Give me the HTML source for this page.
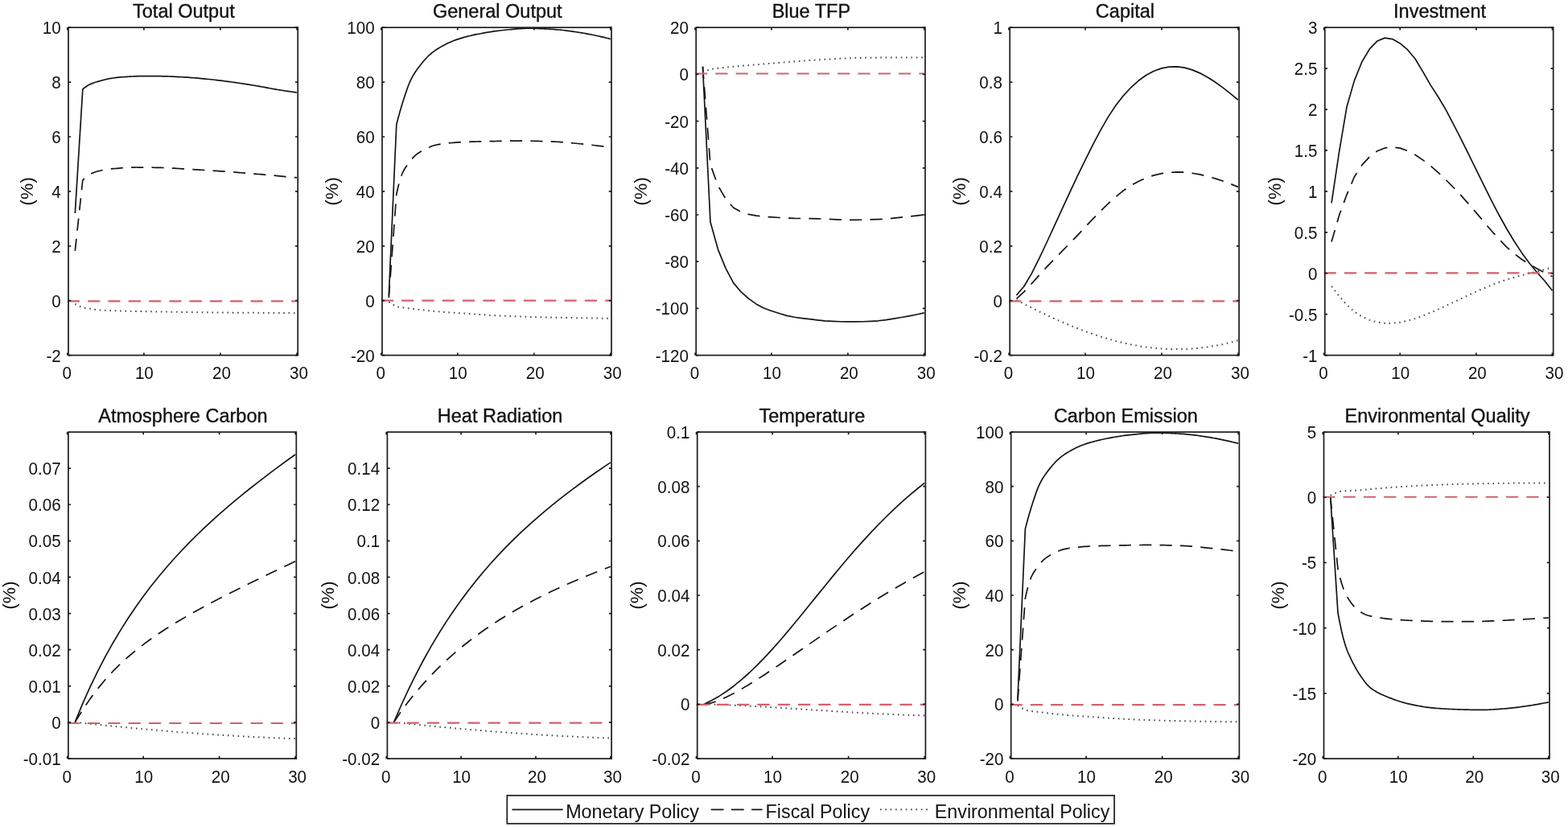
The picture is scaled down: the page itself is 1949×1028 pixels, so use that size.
<!DOCTYPE html>
<html><head><meta charset="utf-8"><title>Impulse responses</title><style>
html,body{margin:0;padding:0;background:#fff;}
body{width:1949px;height:1028px;overflow:hidden;}
svg{display:block;filter:blur(0.35px);}
text{font-family:"Liberation Sans",Arial,Helvetica,sans-serif;fill:#111;}
.tk{font-size:20.6px;}
.tt{font-size:23.5px;stroke:#111;stroke-width:0.35px;}
.yl{font-size:22.8px;}
.lg{font-size:23.3px;}
</style></head><body>
<svg width="1949" height="1028" viewBox="0 0 1949 1028">
<rect width="100%" height="100%" fill="#fff"/>
<g><clipPath id="c0"><rect x="85.0" y="34.2" width="285.20" height="407.40"/></clipPath><polyline points="93.31,265.06 102.81,110.93 105.19,109.02 107.57,107.29 109.94,105.80 112.32,104.60 114.70,103.62 117.07,102.77 119.45,102.02 121.83,101.33 124.20,100.65 126.58,99.98 128.96,99.34 131.33,98.74 133.71,98.19 136.09,97.71 138.46,97.32 140.84,96.98 143.22,96.67 145.59,96.38 147.97,96.13 150.35,95.91 152.72,95.73 155.10,95.57 157.48,95.42 159.85,95.27 162.23,95.13 164.61,95.00 166.98,94.88 169.36,94.79 171.74,94.71 174.11,94.66 176.49,94.63 178.87,94.63 181.24,94.63 183.62,94.63 186.00,94.63 188.37,94.63 190.75,94.63 193.13,94.63 195.50,94.64 197.88,94.67 200.26,94.72 202.63,94.78 205.01,94.85 207.39,94.93 209.76,95.02 212.14,95.11 214.52,95.22 216.89,95.32 219.27,95.43 221.65,95.54 224.02,95.65 226.40,95.77 228.78,95.90 231.15,96.05 233.53,96.21 235.91,96.38 238.28,96.56 240.66,96.75 243.04,96.95 245.41,97.16 247.79,97.37 250.17,97.59 252.54,97.81 254.92,98.03 257.30,98.25 259.67,98.49 262.05,98.75 264.43,99.01 266.80,99.28 269.18,99.56 271.56,99.85 273.93,100.15 276.31,100.45 278.69,100.76 281.06,101.07 283.44,101.38 285.82,101.70 288.19,102.02 290.57,102.34 292.95,102.68 295.32,103.02 297.70,103.37 300.08,103.73 302.45,104.09 304.83,104.46 307.21,104.83 309.58,105.21 311.96,105.59 314.34,105.97 316.71,106.36 319.09,106.75 321.47,107.16 323.84,107.58 326.22,108.01 328.60,108.45 330.97,108.89 333.35,109.33 335.73,109.78 338.10,110.22 340.48,110.65 342.86,111.07 345.23,111.48 347.61,111.87 349.99,112.25 352.36,112.62 354.74,112.98 357.12,113.33 359.49,113.68 361.87,114.02 364.25,114.36 366.62,114.68 369.00,115.00" fill="none" stroke="#141414" stroke-width="1.7" stroke-linejoin="round" clip-path="url(#c0)"/><polyline points="93.31,311.91 102.81,223.98 105.19,221.73 107.57,219.70 109.94,217.94 112.32,216.51 114.70,215.33 117.07,214.31 119.45,213.45 121.83,212.78 124.20,212.23 126.58,211.74 128.96,211.29 131.33,210.89 133.71,210.54 136.09,210.23 138.46,209.95 140.84,209.72 143.22,209.51 145.59,209.30 147.97,209.10 150.35,208.90 152.72,208.72 155.10,208.55 157.48,208.40 159.85,208.27 162.23,208.17 164.61,208.09 166.98,208.04 169.36,208.02 171.74,208.03 174.11,208.04 176.49,208.05 178.87,208.07 181.24,208.10 183.62,208.13 186.00,208.16 188.37,208.20 190.75,208.23 193.13,208.28 195.50,208.32 197.88,208.36 200.26,208.42 202.63,208.49 205.01,208.58 207.39,208.68 209.76,208.79 212.14,208.92 214.52,209.06 216.89,209.20 219.27,209.35 221.65,209.50 224.02,209.65 226.40,209.81 228.78,209.96 231.15,210.11 233.53,210.26 235.91,210.40 238.28,210.54 240.66,210.68 243.04,210.82 245.41,210.96 247.79,211.10 250.17,211.24 252.54,211.39 254.92,211.53 257.30,211.68 259.67,211.83 262.05,211.98 264.43,212.14 266.80,212.29 269.18,212.45 271.56,212.61 273.93,212.78 276.31,212.94 278.69,213.11 281.06,213.28 283.44,213.46 285.82,213.63 288.19,213.81 290.57,213.99 292.95,214.18 295.32,214.36 297.70,214.55 300.08,214.74 302.45,214.93 304.83,215.12 307.21,215.32 309.58,215.51 311.96,215.71 314.34,215.91 316.71,216.11 319.09,216.31 321.47,216.51 323.84,216.71 326.22,216.92 328.60,217.13 330.97,217.34 333.35,217.55 335.73,217.76 338.10,217.97 340.48,218.19 342.86,218.41 345.23,218.63 347.61,218.85 349.99,219.08 352.36,219.30 354.74,219.53 357.12,219.76 359.49,219.99 361.87,220.22 364.25,220.45 366.62,220.69 369.00,220.92" fill="none" stroke="#141414" stroke-width="1.7" stroke-linejoin="round" stroke-dasharray="15.2 10.2" clip-path="url(#c0)"/><polyline points="93.31,377.77 102.81,382.53 105.19,382.87 107.57,383.21 109.94,383.55 112.32,383.88 114.70,384.25 117.07,384.64 119.45,384.98 121.83,385.24 124.20,385.43 126.58,385.59 128.96,385.74 131.33,385.87 133.71,385.98 136.09,386.09 138.46,386.18 140.84,386.26 143.22,386.34 145.59,386.41 147.97,386.48 150.35,386.54 152.72,386.59 155.10,386.65 157.48,386.70 159.85,386.75 162.23,386.80 164.61,386.84 166.98,386.89 169.36,386.94 171.74,386.99 174.11,387.04 176.49,387.08 178.87,387.13 181.24,387.17 183.62,387.22 186.00,387.26 188.37,387.30 190.75,387.34 193.13,387.38 195.50,387.42 197.88,387.46 200.26,387.50 202.63,387.54 205.01,387.58 207.39,387.62 209.76,387.66 212.14,387.70 214.52,387.73 216.89,387.77 219.27,387.81 221.65,387.84 224.02,387.88 226.40,387.92 228.78,387.95 231.15,387.99 233.53,388.02 235.91,388.06 238.28,388.09 240.66,388.12 243.04,388.15 245.41,388.18 247.79,388.21 250.17,388.24 252.54,388.27 254.92,388.30 257.30,388.32 259.67,388.35 262.05,388.38 264.43,388.40 266.80,388.42 269.18,388.45 271.56,388.47 273.93,388.49 276.31,388.52 278.69,388.54 281.06,388.56 283.44,388.58 285.82,388.60 288.19,388.62 290.57,388.64 292.95,388.66 295.32,388.68 297.70,388.70 300.08,388.72 302.45,388.74 304.83,388.76 307.21,388.77 309.58,388.79 311.96,388.81 314.34,388.82 316.71,388.84 319.09,388.86 321.47,388.87 323.84,388.89 326.22,388.91 328.60,388.92 330.97,388.94 333.35,388.95 335.73,388.97 338.10,388.98 340.48,389.00 342.86,389.01 345.23,389.02 347.61,389.04 349.99,389.05 352.36,389.06 354.74,389.08 357.12,389.09 359.49,389.10 361.87,389.11 364.25,389.13 366.62,389.14 369.00,389.15" fill="none" stroke="#4a4a4a" stroke-width="2.0" stroke-linejoin="round" stroke-dasharray="1.6 4.75" stroke-linecap="butt" clip-path="url(#c0)"/><line x1="83.80" y1="374.40" x2="369.00" y2="374.40" stroke="#d4606c" stroke-width="2.2" stroke-dasharray="15.2 10.1"/><rect x="85.0" y="34.2" width="285.20" height="407.40" fill="none" stroke="#1c1c1c" stroke-width="1.7"/><path d="M83.80,441.6v-3.2M83.80,34.2v3.2M178.87,441.6v-3.2M178.87,34.2v3.2M273.93,441.6v-3.2M273.93,34.2v3.2M369.00,441.6v-3.2M369.00,34.2v3.2M85.0,441.60h3.2M370.2,441.60h-3.2M85.0,373.70h3.2M370.2,373.70h-3.2M85.0,305.80h3.2M370.2,305.80h-3.2M85.0,237.90h3.2M370.2,237.90h-3.2M85.0,170.00h3.2M370.2,170.00h-3.2M85.0,102.10h3.2M370.2,102.10h-3.2M85.0,34.20h3.2M370.2,34.20h-3.2" stroke="#1c1c1c" stroke-width="1.7" fill="none"/><text transform="translate(83.30,463.60) scale(1,1.06)" y="7.1" class="tk" text-anchor="middle">0</text><text transform="translate(179.37,463.60) scale(1,1.06)" y="7.1" class="tk" text-anchor="middle">10</text><text transform="translate(275.43,463.60) scale(1,1.06)" y="7.1" class="tk" text-anchor="middle">20</text><text transform="translate(371.50,463.60) scale(1,1.06)" y="7.1" class="tk" text-anchor="middle">30</text><text transform="translate(75.70,442.10) scale(1,1.06)" y="7.1" class="tk" text-anchor="end">-2</text><text transform="translate(75.70,374.20) scale(1,1.06)" y="7.1" class="tk" text-anchor="end">0</text><text transform="translate(75.70,306.30) scale(1,1.06)" y="7.1" class="tk" text-anchor="end">2</text><text transform="translate(75.70,238.40) scale(1,1.06)" y="7.1" class="tk" text-anchor="end">4</text><text transform="translate(75.70,170.50) scale(1,1.06)" y="7.1" class="tk" text-anchor="end">6</text><text transform="translate(75.70,102.60) scale(1,1.06)" y="7.1" class="tk" text-anchor="end">8</text><text transform="translate(75.70,34.70) scale(1,1.06)" y="7.1" class="tk" text-anchor="end">10</text><text x="228.40" y="21.70" class="tt" text-anchor="middle">Total Output</text><text transform="translate(40.80,237.90) rotate(-90)" class="yl" text-anchor="middle">(%)</text></g>
<g><clipPath id="c1"><rect x="475.0" y="34.2" width="285.00" height="407.40"/></clipPath><polyline points="483.30,367.59 492.80,154.72 495.18,145.76 497.55,137.26 499.93,129.26 502.30,121.79 504.68,114.62 507.05,107.80 509.43,101.77 511.80,96.88 514.17,92.69 516.55,88.96 518.92,85.58 521.30,82.44 523.67,79.44 526.05,76.55 528.42,73.80 530.80,71.24 533.17,68.89 535.55,66.79 537.92,64.91 540.30,63.16 542.67,61.55 545.05,60.04 547.42,58.63 549.80,57.29 552.17,56.00 554.55,54.75 556.92,53.57 559.30,52.46 561.67,51.43 564.05,50.50 566.42,49.66 568.80,48.86 571.17,48.10 573.55,47.38 575.92,46.69 578.30,46.03 580.67,45.40 583.05,44.80 585.42,44.23 587.80,43.69 590.17,43.18 592.55,42.69 594.92,42.22 597.30,41.76 599.67,41.31 602.05,40.87 604.42,40.45 606.80,40.05 609.17,39.66 611.55,39.29 613.92,38.94 616.30,38.61 618.67,38.30 621.05,38.01 623.42,37.74 625.80,37.50 628.17,37.26 630.55,37.01 632.92,36.77 635.30,36.53 637.67,36.30 640.05,36.08 642.42,35.88 644.80,35.70 647.17,35.54 649.55,35.41 651.92,35.31 654.30,35.25 656.67,35.22 659.05,35.23 661.42,35.25 663.80,35.30 666.17,35.36 668.55,35.44 670.92,35.54 673.30,35.64 675.67,35.76 678.05,35.89 680.42,36.02 682.80,36.16 685.17,36.31 687.55,36.46 689.92,36.61 692.30,36.78 694.67,36.98 697.05,37.21 699.42,37.47 701.80,37.75 704.17,38.05 706.55,38.36 708.92,38.70 711.30,39.04 713.67,39.40 716.05,39.76 718.42,40.13 720.80,40.50 723.17,40.88 725.55,41.27 727.92,41.68 730.30,42.11 732.67,42.56 735.05,43.02 737.42,43.50 739.80,44.00 742.17,44.51 744.55,45.03 746.92,45.57 749.30,46.12 751.67,46.69 754.05,47.27 756.42,47.86 758.80,48.46" fill="none" stroke="#141414" stroke-width="1.7" stroke-linejoin="round" clip-path="url(#c1)"/><polyline points="483.30,369.97 492.80,241.30 495.18,231.01 497.55,222.27 499.93,215.74 502.30,211.05 504.68,207.29 507.05,204.00 509.43,200.82 511.80,197.84 514.17,195.15 516.55,192.85 518.92,191.01 521.30,189.44 523.67,188.07 526.05,186.82 528.42,185.62 530.80,184.41 533.17,183.24 535.55,182.16 537.92,181.24 540.30,180.55 542.67,180.02 545.05,179.56 547.42,179.15 549.80,178.79 552.17,178.46 554.55,178.18 556.92,177.93 559.30,177.70 561.67,177.49 564.05,177.30 566.42,177.12 568.80,176.95 571.17,176.80 573.55,176.67 575.92,176.55 578.30,176.45 580.67,176.36 583.05,176.28 585.42,176.20 587.80,176.13 590.17,176.06 592.55,176.00 594.92,175.95 597.30,175.89 599.67,175.84 602.05,175.79 604.42,175.74 606.80,175.69 609.17,175.64 611.55,175.59 613.92,175.54 616.30,175.49 618.67,175.44 621.05,175.39 623.42,175.35 625.80,175.30 628.17,175.26 630.55,175.23 632.92,175.19 635.30,175.16 637.67,175.14 640.05,175.12 642.42,175.10 644.80,175.09 647.17,175.09 649.55,175.10 651.92,175.11 654.30,175.14 656.67,175.16 659.05,175.20 661.42,175.25 663.80,175.29 666.17,175.35 668.55,175.41 670.92,175.48 673.30,175.55 675.67,175.62 678.05,175.70 680.42,175.78 682.80,175.86 685.17,175.95 687.55,176.04 689.92,176.13 692.30,176.24 694.67,176.37 697.05,176.53 699.42,176.70 701.80,176.89 704.17,177.10 706.55,177.32 708.92,177.55 711.30,177.78 713.67,178.02 716.05,178.26 718.42,178.50 720.80,178.73 723.17,178.97 725.55,179.21 727.92,179.45 730.30,179.71 732.67,179.96 735.05,180.23 737.42,180.50 739.80,180.78 742.17,181.06 744.55,181.35 746.92,181.65 749.30,181.95 751.67,182.25 754.05,182.56 756.42,182.89 758.80,183.24" fill="none" stroke="#141414" stroke-width="1.7" stroke-linejoin="round" stroke-dasharray="15.2 10.2" clip-path="url(#c1)"/><polyline points="483.30,375.40 492.80,381.17 495.18,381.53 497.55,381.88 499.93,382.21 502.30,382.53 504.68,382.84 507.05,383.14 509.43,383.43 511.80,383.72 514.17,384.00 516.55,384.27 518.92,384.55 521.30,384.82 523.67,385.08 526.05,385.35 528.42,385.62 530.80,385.89 533.17,386.15 535.55,386.41 537.92,386.67 540.30,386.92 542.67,387.15 545.05,387.37 547.42,387.58 549.80,387.77 552.17,387.95 554.55,388.11 556.92,388.27 559.30,388.42 561.67,388.57 564.05,388.71 566.42,388.86 568.80,389.01 571.17,389.16 573.55,389.32 575.92,389.48 578.30,389.65 580.67,389.83 583.05,390.01 585.42,390.18 587.80,390.36 590.17,390.54 592.55,390.71 594.92,390.88 597.30,391.05 599.67,391.20 602.05,391.35 604.42,391.50 606.80,391.64 609.17,391.78 611.55,391.92 613.92,392.05 616.30,392.18 618.67,392.31 621.05,392.43 623.42,392.55 625.80,392.67 628.17,392.78 630.55,392.88 632.92,392.98 635.30,393.08 637.67,393.18 640.05,393.27 642.42,393.37 644.80,393.46 647.17,393.54 649.55,393.63 651.92,393.71 654.30,393.79 656.67,393.86 659.05,393.93 661.42,394.00 663.80,394.07 666.17,394.13 668.55,394.20 670.92,394.26 673.30,394.32 675.67,394.37 678.05,394.43 680.42,394.48 682.80,394.54 685.17,394.59 687.55,394.64 689.92,394.69 692.30,394.74 694.67,394.78 697.05,394.83 699.42,394.88 701.80,394.92 704.17,394.96 706.55,395.01 708.92,395.05 711.30,395.09 713.67,395.13 716.05,395.17 718.42,395.21 720.80,395.25 723.17,395.29 725.55,395.32 727.92,395.36 730.30,395.40 732.67,395.43 735.05,395.47 737.42,395.50 739.80,395.53 742.17,395.57 744.55,395.60 746.92,395.63 749.30,395.66 751.67,395.69 754.05,395.71 756.42,395.74 758.80,395.77" fill="none" stroke="#4a4a4a" stroke-width="2.0" stroke-linejoin="round" stroke-dasharray="1.6 4.75" stroke-linecap="butt" clip-path="url(#c1)"/><line x1="473.80" y1="373.70" x2="758.80" y2="373.70" stroke="#d4606c" stroke-width="2.2" stroke-dasharray="15.2 10.1"/><rect x="475.0" y="34.2" width="285.00" height="407.40" fill="none" stroke="#1c1c1c" stroke-width="1.7"/><path d="M473.80,441.6v-3.2M473.80,34.2v3.2M568.80,441.6v-3.2M568.80,34.2v3.2M663.80,441.6v-3.2M663.80,34.2v3.2M758.80,441.6v-3.2M758.80,34.2v3.2M475.0,441.60h3.2M760.0,441.60h-3.2M475.0,373.70h3.2M760.0,373.70h-3.2M475.0,305.80h3.2M760.0,305.80h-3.2M475.0,237.90h3.2M760.0,237.90h-3.2M475.0,170.00h3.2M760.0,170.00h-3.2M475.0,102.10h3.2M760.0,102.10h-3.2M475.0,34.20h3.2M760.0,34.20h-3.2" stroke="#1c1c1c" stroke-width="1.7" fill="none"/><text transform="translate(473.30,463.60) scale(1,1.06)" y="7.1" class="tk" text-anchor="middle">0</text><text transform="translate(569.30,463.60) scale(1,1.06)" y="7.1" class="tk" text-anchor="middle">10</text><text transform="translate(665.30,463.60) scale(1,1.06)" y="7.1" class="tk" text-anchor="middle">20</text><text transform="translate(761.30,463.60) scale(1,1.06)" y="7.1" class="tk" text-anchor="middle">30</text><text transform="translate(465.70,442.10) scale(1,1.06)" y="7.1" class="tk" text-anchor="end">-20</text><text transform="translate(465.70,374.20) scale(1,1.06)" y="7.1" class="tk" text-anchor="end">0</text><text transform="translate(465.70,306.30) scale(1,1.06)" y="7.1" class="tk" text-anchor="end">20</text><text transform="translate(465.70,238.40) scale(1,1.06)" y="7.1" class="tk" text-anchor="end">40</text><text transform="translate(465.70,170.50) scale(1,1.06)" y="7.1" class="tk" text-anchor="end">60</text><text transform="translate(465.70,102.60) scale(1,1.06)" y="7.1" class="tk" text-anchor="end">80</text><text transform="translate(465.70,34.70) scale(1,1.06)" y="7.1" class="tk" text-anchor="end">100</text><text x="618.30" y="21.70" class="tt" text-anchor="middle">General Output</text><text transform="translate(419.70,237.90) rotate(-90)" class="yl" text-anchor="middle">(%)</text></g>
<g><clipPath id="c2"><rect x="865.2" y="34.2" width="284.80" height="407.40"/></clipPath><polyline points="873.49,82.80 882.99,276.02 892.48,310.07 901.97,333.35 911.47,351.39 920.96,362.73 930.45,371.18 939.95,377.90 949.44,382.95 958.93,386.55 968.43,389.51 977.92,392.40 987.41,394.27 996.91,395.54 1006.40,396.63 1015.89,397.82 1025.39,398.93 1034.88,399.42 1044.37,399.76 1053.87,399.96 1063.36,399.95 1072.85,399.73 1082.35,399.34 1091.84,398.78 1101.33,397.65 1110.83,396.13 1120.32,394.49 1129.81,392.83 1139.31,390.96 1148.80,388.93" fill="none" stroke="#141414" stroke-width="1.7" stroke-linejoin="round" clip-path="url(#c2)"/><polyline points="873.49,82.80 882.99,204.73 892.48,230.75 901.97,247.16 911.47,257.96 920.96,263.33 930.45,266.36 939.95,268.08 949.44,269.14 958.93,269.89 968.43,270.50 977.92,271.05 987.41,271.38 996.91,271.50 1006.40,271.60 1015.89,271.80 1025.39,272.19 1034.88,272.66 1044.37,273.09 1053.87,273.36 1063.36,273.38 1072.85,273.22 1082.35,272.93 1091.84,272.54 1101.33,272.07 1110.83,271.19 1120.32,270.11 1129.81,269.11 1139.31,268.08 1148.80,267.00" fill="none" stroke="#141414" stroke-width="1.7" stroke-linejoin="round" stroke-dasharray="15.2 10.2" clip-path="url(#c2)"/><polyline points="873.49,90.07 882.99,86.00 892.48,84.86 901.97,83.79 911.47,82.82 920.96,81.95 930.45,81.13 939.95,80.34 949.44,79.53 958.93,78.73 968.43,77.94 977.92,77.18 987.41,76.42 996.91,75.70 1006.40,75.04 1015.89,74.41 1025.39,73.82 1034.88,73.31 1044.37,72.84 1053.87,72.42 1063.36,72.10 1072.85,71.90 1082.35,71.74 1091.84,71.63 1101.33,71.58 1110.83,71.53 1120.32,71.50 1129.81,71.47 1139.31,71.45 1148.80,71.45" fill="none" stroke="#4a4a4a" stroke-width="2.0" stroke-linejoin="round" stroke-dasharray="1.6 4.75" stroke-linecap="butt" clip-path="url(#c2)"/><line x1="864.00" y1="91.50" x2="1148.80" y2="91.50" stroke="#d4606c" stroke-width="2.2" stroke-dasharray="15.2 10.1"/><rect x="865.2" y="34.2" width="284.80" height="407.40" fill="none" stroke="#1c1c1c" stroke-width="1.7"/><path d="M864.00,441.6v-3.2M864.00,34.2v3.2M958.93,441.6v-3.2M958.93,34.2v3.2M1053.87,441.6v-3.2M1053.87,34.2v3.2M1148.80,441.6v-3.2M1148.80,34.2v3.2M865.2,441.60h3.2M1150.0,441.60h-3.2M865.2,383.40h3.2M1150.0,383.40h-3.2M865.2,325.20h3.2M1150.0,325.20h-3.2M865.2,267.00h3.2M1150.0,267.00h-3.2M865.2,208.80h3.2M1150.0,208.80h-3.2M865.2,150.60h3.2M1150.0,150.60h-3.2M865.2,92.40h3.2M1150.0,92.40h-3.2M865.2,34.20h3.2M1150.0,34.20h-3.2" stroke="#1c1c1c" stroke-width="1.7" fill="none"/><text transform="translate(863.50,463.60) scale(1,1.06)" y="7.1" class="tk" text-anchor="middle">0</text><text transform="translate(959.43,463.60) scale(1,1.06)" y="7.1" class="tk" text-anchor="middle">10</text><text transform="translate(1055.37,463.60) scale(1,1.06)" y="7.1" class="tk" text-anchor="middle">20</text><text transform="translate(1151.30,463.60) scale(1,1.06)" y="7.1" class="tk" text-anchor="middle">30</text><text transform="translate(855.90,442.10) scale(1,1.06)" y="7.1" class="tk" text-anchor="end">-120</text><text transform="translate(855.90,383.90) scale(1,1.06)" y="7.1" class="tk" text-anchor="end">-100</text><text transform="translate(855.90,325.70) scale(1,1.06)" y="7.1" class="tk" text-anchor="end">-80</text><text transform="translate(855.90,267.50) scale(1,1.06)" y="7.1" class="tk" text-anchor="end">-60</text><text transform="translate(855.90,209.30) scale(1,1.06)" y="7.1" class="tk" text-anchor="end">-40</text><text transform="translate(855.90,151.10) scale(1,1.06)" y="7.1" class="tk" text-anchor="end">-20</text><text transform="translate(855.90,92.90) scale(1,1.06)" y="7.1" class="tk" text-anchor="end">0</text><text transform="translate(855.90,34.70) scale(1,1.06)" y="7.1" class="tk" text-anchor="end">20</text><text x="1008.40" y="21.70" class="tt" text-anchor="middle">Blue TFP</text><text transform="translate(803.70,237.90) rotate(-90)" class="yl" text-anchor="middle">(%)</text></g>
<g><clipPath id="c3"><rect x="1255.2" y="34.2" width="284.90" height="407.40"/></clipPath><polyline points="1263.50,367.04 1272.99,355.79 1282.49,339.59 1291.99,320.58 1301.48,300.50 1310.98,279.93 1320.48,259.18 1329.97,238.57 1339.47,218.40 1348.97,198.85 1358.46,179.91 1367.96,161.87 1377.46,145.40 1386.95,131.08 1396.45,118.85 1405.95,108.54 1415.44,100.03 1424.94,93.30 1434.44,88.27 1443.93,84.90 1453.43,83.12 1462.93,82.90 1472.42,84.16 1481.92,86.86 1491.42,90.86 1500.91,95.98 1510.41,102.04 1519.91,108.88 1529.40,116.33 1538.90,124.19" fill="none" stroke="#141414" stroke-width="1.7" stroke-linejoin="round" clip-path="url(#c3)"/><polyline points="1263.50,371.35 1272.99,362.60 1282.49,352.35 1291.99,341.69 1301.48,331.44 1310.98,321.59 1320.48,311.92 1329.97,302.23 1339.47,292.33 1348.97,282.24 1358.46,272.19 1367.96,262.41 1377.46,253.11 1386.95,244.54 1396.45,236.93 1405.95,230.46 1415.44,225.17 1424.94,220.98 1434.44,217.83 1443.93,215.65 1453.43,214.38 1462.93,213.93 1472.42,214.26 1481.92,215.28 1491.42,216.94 1500.91,219.17 1510.41,221.89 1519.91,225.04 1529.40,228.56 1538.90,232.37" fill="none" stroke="#141414" stroke-width="1.7" stroke-linejoin="round" stroke-dasharray="15.2 10.2" clip-path="url(#c3)"/><polyline points="1263.50,373.03 1272.99,377.92 1282.49,382.70 1291.99,387.35 1301.48,391.87 1310.98,396.23 1320.48,400.42 1329.97,404.43 1339.47,408.25 1348.97,411.85 1358.46,415.24 1367.96,418.39 1377.46,421.28 1386.95,423.92 1396.45,426.27 1405.95,428.34 1415.44,430.09 1424.94,431.54 1434.44,432.66 1443.93,433.46 1453.43,433.94 1462.93,434.09 1472.42,433.91 1481.92,433.39 1491.42,432.54 1500.91,431.35 1510.41,429.82 1519.91,427.95 1529.40,425.72 1538.90,423.15" fill="none" stroke="#4a4a4a" stroke-width="2.0" stroke-linejoin="round" stroke-dasharray="1.6 4.75" stroke-linecap="butt" clip-path="url(#c3)"/><line x1="1254.00" y1="374.40" x2="1538.90" y2="374.40" stroke="#d4606c" stroke-width="2.2" stroke-dasharray="15.2 10.1"/><rect x="1255.2" y="34.2" width="284.90" height="407.40" fill="none" stroke="#1c1c1c" stroke-width="1.7"/><path d="M1254.00,441.6v-3.2M1254.00,34.2v3.2M1348.97,441.6v-3.2M1348.97,34.2v3.2M1443.93,441.6v-3.2M1443.93,34.2v3.2M1538.90,441.6v-3.2M1538.90,34.2v3.2M1255.2,441.60h3.2M1540.1,441.60h-3.2M1255.2,373.70h3.2M1540.1,373.70h-3.2M1255.2,305.80h3.2M1540.1,305.80h-3.2M1255.2,237.90h3.2M1540.1,237.90h-3.2M1255.2,170.00h3.2M1540.1,170.00h-3.2M1255.2,102.10h3.2M1540.1,102.10h-3.2M1255.2,34.20h3.2M1540.1,34.20h-3.2" stroke="#1c1c1c" stroke-width="1.7" fill="none"/><text transform="translate(1253.50,463.60) scale(1,1.06)" y="7.1" class="tk" text-anchor="middle">0</text><text transform="translate(1349.47,463.60) scale(1,1.06)" y="7.1" class="tk" text-anchor="middle">10</text><text transform="translate(1445.43,463.60) scale(1,1.06)" y="7.1" class="tk" text-anchor="middle">20</text><text transform="translate(1541.40,463.60) scale(1,1.06)" y="7.1" class="tk" text-anchor="middle">30</text><text transform="translate(1245.90,442.10) scale(1,1.06)" y="7.1" class="tk" text-anchor="end">-0.2</text><text transform="translate(1245.90,374.20) scale(1,1.06)" y="7.1" class="tk" text-anchor="end">0</text><text transform="translate(1245.90,306.30) scale(1,1.06)" y="7.1" class="tk" text-anchor="end">0.2</text><text transform="translate(1245.90,238.40) scale(1,1.06)" y="7.1" class="tk" text-anchor="end">0.4</text><text transform="translate(1245.90,170.50) scale(1,1.06)" y="7.1" class="tk" text-anchor="end">0.6</text><text transform="translate(1245.90,102.60) scale(1,1.06)" y="7.1" class="tk" text-anchor="end">0.8</text><text transform="translate(1245.90,34.70) scale(1,1.06)" y="7.1" class="tk" text-anchor="end">1</text><text x="1398.45" y="21.70" class="tt" text-anchor="middle">Capital</text><text transform="translate(1199.70,237.90) rotate(-90)" class="yl" text-anchor="middle">(%)</text></g>
<g><clipPath id="c4"><rect x="1646.8" y="34.2" width="283.90" height="407.40"/></clipPath><polyline points="1655.06,252.29 1664.53,189.07 1673.99,133.10 1683.45,100.13 1692.92,76.75 1702.38,60.90 1711.84,51.05 1721.31,47.15 1730.77,48.54 1740.23,53.89 1749.70,61.96 1759.16,73.21 1768.62,89.18 1778.09,105.64 1787.55,120.21 1797.01,136.13 1806.48,154.12 1815.94,172.67 1825.40,191.55 1834.87,210.87 1844.33,230.24 1853.79,249.19 1863.26,267.28 1872.72,284.24 1882.18,299.98 1891.65,314.38 1901.11,327.33 1910.57,338.73 1920.04,349.26 1929.50,361.18" fill="none" stroke="#141414" stroke-width="1.7" stroke-linejoin="round" clip-path="url(#c4)"/><polyline points="1655.06,300.55 1664.53,267.83 1673.99,242.07 1683.45,219.79 1692.92,205.10 1702.38,194.84 1711.84,187.83 1721.31,183.93 1730.77,182.80 1740.23,184.08 1749.70,187.42 1759.16,192.46 1768.62,198.84 1778.09,206.21 1787.55,214.38 1797.01,223.26 1806.48,232.78 1815.94,242.86 1825.40,253.41 1834.87,264.38 1844.33,275.61 1853.79,286.74 1863.26,297.36 1872.72,307.04 1882.18,315.41 1891.65,322.50 1901.11,328.59 1910.57,333.97 1920.04,338.91 1929.50,343.71" fill="none" stroke="#141414" stroke-width="1.7" stroke-linejoin="round" stroke-dasharray="15.2 10.2" clip-path="url(#c4)"/><polyline points="1655.06,355.82 1664.53,368.00 1673.99,378.86 1683.45,387.45 1692.92,393.66 1702.38,397.88 1711.84,400.48 1721.31,401.70 1730.77,401.71 1740.23,400.64 1749.70,398.65 1759.16,395.89 1768.62,392.53 1778.09,388.70 1787.55,384.56 1797.01,380.24 1806.48,375.80 1815.94,371.32 1825.40,366.87 1834.87,362.52 1844.33,358.34 1853.79,354.41 1863.26,350.80 1872.72,347.57 1882.18,344.74 1891.65,342.18 1901.11,339.79 1910.57,337.43 1920.04,334.98 1929.50,332.33" fill="none" stroke="#4a4a4a" stroke-width="2.0" stroke-linejoin="round" stroke-dasharray="1.6 4.75" stroke-linecap="butt" clip-path="url(#c4)"/><line x1="1645.60" y1="339.35" x2="1929.50" y2="339.35" stroke="#d4606c" stroke-width="2.2" stroke-dasharray="15.2 10.1"/><rect x="1646.8" y="34.2" width="283.90" height="407.40" fill="none" stroke="#1c1c1c" stroke-width="1.7"/><path d="M1645.60,441.6v-3.2M1645.60,34.2v3.2M1740.23,441.6v-3.2M1740.23,34.2v3.2M1834.87,441.6v-3.2M1834.87,34.2v3.2M1929.50,441.6v-3.2M1929.50,34.2v3.2M1646.8,441.60h3.2M1930.7,441.60h-3.2M1646.8,390.68h3.2M1930.7,390.68h-3.2M1646.8,339.75h3.2M1930.7,339.75h-3.2M1646.8,288.83h3.2M1930.7,288.83h-3.2M1646.8,237.90h3.2M1930.7,237.90h-3.2M1646.8,186.97h3.2M1930.7,186.97h-3.2M1646.8,136.05h3.2M1930.7,136.05h-3.2M1646.8,85.12h3.2M1930.7,85.12h-3.2M1646.8,34.20h3.2M1930.7,34.20h-3.2" stroke="#1c1c1c" stroke-width="1.7" fill="none"/><text transform="translate(1645.10,463.60) scale(1,1.06)" y="7.1" class="tk" text-anchor="middle">0</text><text transform="translate(1740.73,463.60) scale(1,1.06)" y="7.1" class="tk" text-anchor="middle">10</text><text transform="translate(1836.37,463.60) scale(1,1.06)" y="7.1" class="tk" text-anchor="middle">20</text><text transform="translate(1932.00,463.60) scale(1,1.06)" y="7.1" class="tk" text-anchor="middle">30</text><text transform="translate(1637.50,442.10) scale(1,1.06)" y="7.1" class="tk" text-anchor="end">-1</text><text transform="translate(1637.50,391.18) scale(1,1.06)" y="7.1" class="tk" text-anchor="end">-0.5</text><text transform="translate(1637.50,340.25) scale(1,1.06)" y="7.1" class="tk" text-anchor="end">0</text><text transform="translate(1637.50,289.33) scale(1,1.06)" y="7.1" class="tk" text-anchor="end">0.5</text><text transform="translate(1637.50,238.40) scale(1,1.06)" y="7.1" class="tk" text-anchor="end">1</text><text transform="translate(1637.50,187.47) scale(1,1.06)" y="7.1" class="tk" text-anchor="end">1.5</text><text transform="translate(1637.50,136.55) scale(1,1.06)" y="7.1" class="tk" text-anchor="end">2</text><text transform="translate(1637.50,85.62) scale(1,1.06)" y="7.1" class="tk" text-anchor="end">2.5</text><text transform="translate(1637.50,34.70) scale(1,1.06)" y="7.1" class="tk" text-anchor="end">3</text><text x="1789.55" y="21.70" class="tt" text-anchor="middle">Investment</text><text transform="translate(1591.70,237.90) rotate(-90)" class="yl" text-anchor="middle">(%)</text></g>
<g><clipPath id="c5"><rect x="84.9" y="537.05" width="283.40" height="405.95"/></clipPath><polyline points="93.15,897.89 102.59,874.93 112.04,853.84 121.49,834.30 130.93,816.13 140.38,799.19 149.83,783.34 159.27,768.47 168.72,754.48 178.17,741.29 187.61,728.81 197.06,716.98 206.51,705.74 215.95,695.01 225.40,684.76 234.85,674.94 244.29,665.51 253.74,656.42 263.19,647.64 272.63,639.15 282.08,630.92 291.53,622.92 300.97,615.13 310.42,607.52 319.87,600.09 329.31,592.81 338.76,585.67 348.21,578.66 357.65,571.77 367.10,564.97" fill="none" stroke="#141414" stroke-width="1.7" stroke-linejoin="round" clip-path="url(#c5)"/><polyline points="93.15,897.89 102.59,882.58 112.04,868.63 121.49,856.07 130.93,844.74 140.38,834.46 149.83,825.09 159.27,816.49 168.72,808.54 178.17,801.15 187.61,794.24 197.06,787.71 206.51,781.53 215.95,775.63 225.40,769.96 234.85,764.50 244.29,759.20 253.74,754.05 263.19,749.01 272.63,744.08 282.08,739.23 291.53,734.45 300.97,729.73 310.42,725.05 319.87,720.42 329.31,715.83 338.76,711.26 348.21,706.72 357.65,702.20 367.10,697.70" fill="none" stroke="#141414" stroke-width="1.7" stroke-linejoin="round" stroke-dasharray="15.2 10.2" clip-path="url(#c5)"/><polyline points="93.15,897.73 102.59,898.75 112.04,899.76 121.49,900.74 130.93,901.71 140.38,902.66 149.83,903.58 159.27,904.49 168.72,905.38 178.17,906.24 187.61,907.08 197.06,907.90 206.51,908.69 215.95,909.47 225.40,910.21 234.85,910.94 244.29,911.63 253.74,912.31 263.19,912.95 272.63,913.57 282.08,914.16 291.53,914.72 300.97,915.26 310.42,915.77 319.87,916.25 329.31,916.69 338.76,917.11 348.21,917.50 357.65,917.86 367.10,918.18" fill="none" stroke="#4a4a4a" stroke-width="2.0" stroke-linejoin="round" stroke-dasharray="1.6 4.75" stroke-linecap="butt" clip-path="url(#c5)"/><line x1="83.70" y1="898.99" x2="367.10" y2="898.99" stroke="#d4606c" stroke-width="2.2" stroke-dasharray="15.2 10.1"/><rect x="84.9" y="537.05" width="283.40" height="405.95" fill="none" stroke="#1c1c1c" stroke-width="1.7"/><path d="M83.70,943.0v-3.2M83.70,537.05v3.2M178.17,943.0v-3.2M178.17,537.05v3.2M272.63,943.0v-3.2M272.63,537.05v3.2M367.10,943.0v-3.2M367.10,537.05v3.2M84.9,943.00h3.2M368.3,943.00h-3.2M84.9,897.89h3.2M368.3,897.89h-3.2M84.9,852.79h3.2M368.3,852.79h-3.2M84.9,807.68h3.2M368.3,807.68h-3.2M84.9,762.58h3.2M368.3,762.58h-3.2M84.9,717.47h3.2M368.3,717.47h-3.2M84.9,672.37h3.2M368.3,672.37h-3.2M84.9,627.26h3.2M368.3,627.26h-3.2M84.9,582.16h3.2M368.3,582.16h-3.2" stroke="#1c1c1c" stroke-width="1.7" fill="none"/><text transform="translate(83.20,965.00) scale(1,1.06)" y="7.1" class="tk" text-anchor="middle">0</text><text transform="translate(178.67,965.00) scale(1,1.06)" y="7.1" class="tk" text-anchor="middle">10</text><text transform="translate(274.13,965.00) scale(1,1.06)" y="7.1" class="tk" text-anchor="middle">20</text><text transform="translate(369.60,965.00) scale(1,1.06)" y="7.1" class="tk" text-anchor="middle">30</text><text transform="translate(75.60,943.50) scale(1,1.06)" y="7.1" class="tk" text-anchor="end">-0.01</text><text transform="translate(75.60,898.39) scale(1,1.06)" y="7.1" class="tk" text-anchor="end">0</text><text transform="translate(75.60,853.29) scale(1,1.06)" y="7.1" class="tk" text-anchor="end">0.01</text><text transform="translate(75.60,808.18) scale(1,1.06)" y="7.1" class="tk" text-anchor="end">0.02</text><text transform="translate(75.60,763.08) scale(1,1.06)" y="7.1" class="tk" text-anchor="end">0.03</text><text transform="translate(75.60,717.97) scale(1,1.06)" y="7.1" class="tk" text-anchor="end">0.04</text><text transform="translate(75.60,672.87) scale(1,1.06)" y="7.1" class="tk" text-anchor="end">0.05</text><text transform="translate(75.60,627.76) scale(1,1.06)" y="7.1" class="tk" text-anchor="end">0.06</text><text transform="translate(75.60,582.66) scale(1,1.06)" y="7.1" class="tk" text-anchor="end">0.07</text><text x="227.40" y="524.55" class="tt" text-anchor="middle">Atmosphere Carbon</text><text transform="translate(18.70,740.02) rotate(-90)" class="yl" text-anchor="middle">(%)</text></g>
<g><clipPath id="c6"><rect x="481.4" y="537.05" width="278.70" height="405.95"/></clipPath><polyline points="489.49,897.89 498.78,876.50 508.07,856.44 517.36,837.63 526.65,819.98 535.94,803.41 545.23,787.81 554.52,773.11 563.81,759.24 573.10,746.12 582.39,733.70 591.68,721.91 600.97,710.71 610.26,700.05 619.55,689.87 628.84,680.15 638.13,670.83 647.42,661.90 656.71,653.30 666.00,645.03 675.29,637.05 684.58,629.33 693.87,621.86 703.16,614.61 712.45,607.56 721.74,600.70 731.03,594.02 740.32,587.49 749.61,581.10 758.90,574.85" fill="none" stroke="#141414" stroke-width="1.7" stroke-linejoin="round" clip-path="url(#c6)"/><polyline points="489.49,897.89 498.78,884.05 508.07,871.60 517.36,860.09 526.65,849.38 535.94,839.35 545.23,829.95 554.52,821.11 563.81,812.78 573.10,804.92 582.39,797.48 591.68,790.43 600.97,783.74 610.26,777.37 619.55,771.31 628.84,765.53 638.13,760.00 647.42,754.71 656.71,749.64 666.00,744.77 675.29,740.08 684.58,735.57 693.87,731.22 703.16,727.02 712.45,722.95 721.74,719.01 731.03,715.18 740.32,711.47 749.61,707.85 758.90,704.33" fill="none" stroke="#141414" stroke-width="1.7" stroke-linejoin="round" stroke-dasharray="15.2 10.2" clip-path="url(#c6)"/><polyline points="489.49,897.73 498.78,898.72 508.07,899.69 517.36,900.64 526.65,901.58 535.94,902.49 545.23,903.39 554.52,904.26 563.81,905.11 573.10,905.95 582.39,906.76 591.68,907.55 600.97,908.32 610.26,909.06 619.55,909.78 628.84,910.48 638.13,911.15 647.42,911.80 656.71,912.42 666.00,913.02 675.29,913.59 684.58,914.14 693.87,914.65 703.16,915.14 712.45,915.60 721.74,916.04 731.03,916.44 740.32,916.81 749.61,917.16 758.90,917.47" fill="none" stroke="#4a4a4a" stroke-width="2.0" stroke-linejoin="round" stroke-dasharray="1.6 4.75" stroke-linecap="butt" clip-path="url(#c6)"/><line x1="480.20" y1="898.59" x2="758.90" y2="898.59" stroke="#d4606c" stroke-width="2.2" stroke-dasharray="15.2 10.1"/><rect x="481.4" y="537.05" width="278.70" height="405.95" fill="none" stroke="#1c1c1c" stroke-width="1.7"/><path d="M480.20,943.0v-3.2M480.20,537.05v3.2M573.10,943.0v-3.2M573.10,537.05v3.2M666.00,943.0v-3.2M666.00,537.05v3.2M758.90,943.0v-3.2M758.90,537.05v3.2M481.4,943.00h3.2M760.1,943.00h-3.2M481.4,897.89h3.2M760.1,897.89h-3.2M481.4,852.79h3.2M760.1,852.79h-3.2M481.4,807.68h3.2M760.1,807.68h-3.2M481.4,762.58h3.2M760.1,762.58h-3.2M481.4,717.47h3.2M760.1,717.47h-3.2M481.4,672.37h3.2M760.1,672.37h-3.2M481.4,627.26h3.2M760.1,627.26h-3.2M481.4,582.16h3.2M760.1,582.16h-3.2" stroke="#1c1c1c" stroke-width="1.7" fill="none"/><text transform="translate(479.70,965.00) scale(1,1.06)" y="7.1" class="tk" text-anchor="middle">0</text><text transform="translate(573.60,965.00) scale(1,1.06)" y="7.1" class="tk" text-anchor="middle">10</text><text transform="translate(667.50,965.00) scale(1,1.06)" y="7.1" class="tk" text-anchor="middle">20</text><text transform="translate(761.40,965.00) scale(1,1.06)" y="7.1" class="tk" text-anchor="middle">30</text><text transform="translate(472.10,943.50) scale(1,1.06)" y="7.1" class="tk" text-anchor="end">-0.02</text><text transform="translate(472.10,898.39) scale(1,1.06)" y="7.1" class="tk" text-anchor="end">0</text><text transform="translate(472.10,853.29) scale(1,1.06)" y="7.1" class="tk" text-anchor="end">0.02</text><text transform="translate(472.10,808.18) scale(1,1.06)" y="7.1" class="tk" text-anchor="end">0.04</text><text transform="translate(472.10,763.08) scale(1,1.06)" y="7.1" class="tk" text-anchor="end">0.06</text><text transform="translate(472.10,717.97) scale(1,1.06)" y="7.1" class="tk" text-anchor="end">0.08</text><text transform="translate(472.10,672.87) scale(1,1.06)" y="7.1" class="tk" text-anchor="end">0.1</text><text transform="translate(472.10,627.76) scale(1,1.06)" y="7.1" class="tk" text-anchor="end">0.12</text><text transform="translate(472.10,582.66) scale(1,1.06)" y="7.1" class="tk" text-anchor="end">0.14</text><text x="621.55" y="524.55" class="tt" text-anchor="middle">Heat Radiation</text><text transform="translate(414.90,740.02) rotate(-90)" class="yl" text-anchor="middle">(%)</text></g>
<g><clipPath id="c7"><rect x="866.7" y="537.05" width="283.70" height="405.95"/></clipPath><polyline points="874.96,875.34 884.41,870.77 893.87,865.39 903.33,859.20 912.78,852.21 922.24,844.46 931.70,836.00 941.15,826.87 950.61,817.15 960.07,806.90 969.52,796.20 978.98,785.13 988.44,773.78 997.89,762.23 1007.35,750.56 1016.81,738.86 1026.26,727.19 1035.72,715.63 1045.18,704.24 1054.63,693.07 1064.09,682.18 1073.55,671.60 1083.00,661.36 1092.46,651.50 1101.92,642.01 1111.37,632.92 1120.83,624.23 1130.29,615.92 1139.74,608.00 1149.20,600.45" fill="none" stroke="#141414" stroke-width="1.7" stroke-linejoin="round" clip-path="url(#c7)"/><polyline points="874.96,875.34 884.41,873.80 893.87,870.48 903.33,866.26 912.78,861.42 922.24,856.12 931.70,850.48 941.15,844.56 950.61,838.44 960.07,832.15 969.52,825.76 978.98,819.28 988.44,812.75 997.89,806.20 1007.35,799.65 1016.81,793.11 1026.26,786.62 1035.72,780.17 1045.18,773.80 1054.63,767.50 1064.09,761.29 1073.55,755.19 1083.00,749.19 1092.46,743.30 1101.92,737.54 1111.37,731.91 1120.83,726.41 1130.29,721.04 1139.74,715.82 1149.20,710.74" fill="none" stroke="#141414" stroke-width="1.7" stroke-linejoin="round" stroke-dasharray="15.2 10.2" clip-path="url(#c7)"/><polyline points="874.96,875.11 884.41,875.44 893.87,875.81 903.33,876.22 912.78,876.66 922.24,877.14 931.70,877.64 941.15,878.16 950.61,878.70 960.07,879.27 969.52,879.84 978.98,880.43 988.44,881.03 997.89,881.63 1007.35,882.24 1016.81,882.84 1026.26,883.44 1035.72,884.03 1045.18,884.62 1054.63,885.18 1064.09,885.74 1073.55,886.27 1083.00,886.78 1092.46,887.27 1101.92,887.72 1111.37,888.14 1120.83,888.53 1130.29,888.88 1139.74,889.19 1149.20,889.45" fill="none" stroke="#4a4a4a" stroke-width="2.0" stroke-linejoin="round" stroke-dasharray="1.6 4.75" stroke-linecap="butt" clip-path="url(#c7)"/><line x1="865.50" y1="875.94" x2="1149.20" y2="875.94" stroke="#d4606c" stroke-width="2.2" stroke-dasharray="15.2 10.1"/><rect x="866.7" y="537.05" width="283.70" height="405.95" fill="none" stroke="#1c1c1c" stroke-width="1.7"/><path d="M865.50,943.0v-3.2M865.50,537.05v3.2M960.07,943.0v-3.2M960.07,537.05v3.2M1054.63,943.0v-3.2M1054.63,537.05v3.2M1149.20,943.0v-3.2M1149.20,537.05v3.2M866.7,943.00h3.2M1150.4,943.00h-3.2M866.7,875.34h3.2M1150.4,875.34h-3.2M866.7,807.68h3.2M1150.4,807.68h-3.2M866.7,740.02h3.2M1150.4,740.02h-3.2M866.7,672.37h3.2M1150.4,672.37h-3.2M866.7,604.71h3.2M1150.4,604.71h-3.2M866.7,537.05h3.2M1150.4,537.05h-3.2" stroke="#1c1c1c" stroke-width="1.7" fill="none"/><text transform="translate(865.00,965.00) scale(1,1.06)" y="7.1" class="tk" text-anchor="middle">0</text><text transform="translate(960.57,965.00) scale(1,1.06)" y="7.1" class="tk" text-anchor="middle">10</text><text transform="translate(1056.13,965.00) scale(1,1.06)" y="7.1" class="tk" text-anchor="middle">20</text><text transform="translate(1151.70,965.00) scale(1,1.06)" y="7.1" class="tk" text-anchor="middle">30</text><text transform="translate(857.40,943.50) scale(1,1.06)" y="7.1" class="tk" text-anchor="end">-0.02</text><text transform="translate(857.40,875.84) scale(1,1.06)" y="7.1" class="tk" text-anchor="end">0</text><text transform="translate(857.40,808.18) scale(1,1.06)" y="7.1" class="tk" text-anchor="end">0.02</text><text transform="translate(857.40,740.52) scale(1,1.06)" y="7.1" class="tk" text-anchor="end">0.04</text><text transform="translate(857.40,672.87) scale(1,1.06)" y="7.1" class="tk" text-anchor="end">0.06</text><text transform="translate(857.40,605.21) scale(1,1.06)" y="7.1" class="tk" text-anchor="end">0.08</text><text transform="translate(857.40,537.55) scale(1,1.06)" y="7.1" class="tk" text-anchor="end">0.1</text><text x="1009.35" y="524.55" class="tt" text-anchor="middle">Temperature</text><text transform="translate(798.80,740.02) rotate(-90)" class="yl" text-anchor="middle">(%)</text></g>
<g><clipPath id="c8"><rect x="1256.7" y="537.05" width="283.70" height="405.95"/></clipPath><polyline points="1264.96,869.25 1274.41,657.14 1276.78,648.21 1279.14,639.74 1281.51,631.77 1283.87,624.33 1286.23,617.19 1288.60,610.39 1290.96,604.38 1293.33,599.51 1295.69,595.33 1298.06,591.62 1300.42,588.25 1302.78,585.12 1305.15,582.13 1307.51,579.24 1309.88,576.51 1312.24,573.96 1314.60,571.62 1316.97,569.53 1319.33,567.65 1321.70,565.91 1324.06,564.30 1326.42,562.80 1328.79,561.39 1331.15,560.05 1333.52,558.77 1335.88,557.53 1338.25,556.35 1340.61,555.25 1342.97,554.22 1345.34,553.29 1347.70,552.46 1350.07,551.66 1352.43,550.90 1354.80,550.18 1357.16,549.49 1359.52,548.83 1361.89,548.21 1364.25,547.61 1366.62,547.05 1368.98,546.51 1371.34,545.99 1373.71,545.51 1376.07,545.04 1378.44,544.58 1380.80,544.13 1383.16,543.70 1385.53,543.28 1387.89,542.88 1390.26,542.49 1392.62,542.12 1394.99,541.77 1397.35,541.44 1399.71,541.13 1402.08,540.84 1404.44,540.58 1406.81,540.34 1409.17,540.10 1411.54,539.85 1413.90,539.61 1416.26,539.37 1418.63,539.14 1420.99,538.93 1423.36,538.73 1425.72,538.55 1428.08,538.39 1430.45,538.26 1432.81,538.16 1435.18,538.09 1437.54,538.07 1439.90,538.07 1442.27,538.10 1444.63,538.15 1447.00,538.21 1449.36,538.29 1451.73,538.38 1454.09,538.49 1456.45,538.60 1458.82,538.73 1461.18,538.87 1463.55,539.01 1465.91,539.15 1468.28,539.30 1470.64,539.45 1473.00,539.62 1475.37,539.82 1477.73,540.05 1480.10,540.31 1482.46,540.58 1484.82,540.88 1487.19,541.20 1489.55,541.53 1491.92,541.87 1494.28,542.23 1496.64,542.59 1499.01,542.96 1501.37,543.33 1503.74,543.70 1506.10,544.10 1508.47,544.51 1510.83,544.93 1513.19,545.38 1515.56,545.84 1517.92,546.32 1520.29,546.81 1522.65,547.32 1525.02,547.84 1527.38,548.38 1529.74,548.93 1532.11,549.49 1534.47,550.07 1536.84,550.66 1539.20,551.26" fill="none" stroke="#141414" stroke-width="1.7" stroke-linejoin="round" clip-path="url(#c8)"/><polyline points="1264.96,871.62 1274.41,743.41 1276.78,733.16 1279.14,724.45 1281.51,717.95 1283.87,713.27 1286.23,709.53 1288.60,706.24 1290.96,703.08 1293.33,700.11 1295.69,697.42 1298.06,695.14 1300.42,693.30 1302.78,691.74 1305.15,690.37 1307.51,689.13 1309.88,687.93 1312.24,686.73 1314.60,685.56 1316.97,684.48 1319.33,683.57 1321.70,682.88 1324.06,682.36 1326.42,681.89 1328.79,681.48 1331.15,681.12 1333.52,680.80 1335.88,680.52 1338.25,680.27 1340.61,680.04 1342.97,679.83 1345.34,679.64 1347.70,679.46 1350.07,679.30 1352.43,679.15 1354.80,679.01 1357.16,678.90 1359.52,678.79 1361.89,678.70 1364.25,678.62 1366.62,678.55 1368.98,678.47 1371.34,678.41 1373.71,678.35 1376.07,678.29 1378.44,678.24 1380.80,678.19 1383.16,678.14 1385.53,678.09 1387.89,678.04 1390.26,677.99 1392.62,677.94 1394.99,677.89 1397.35,677.84 1399.71,677.79 1402.08,677.74 1404.44,677.69 1406.81,677.65 1409.17,677.61 1411.54,677.57 1413.90,677.54 1416.26,677.51 1418.63,677.49 1420.99,677.47 1423.36,677.45 1425.72,677.44 1428.08,677.44 1430.45,677.45 1432.81,677.46 1435.18,677.48 1437.54,677.51 1439.90,677.55 1442.27,677.59 1444.63,677.64 1447.00,677.70 1449.36,677.76 1451.73,677.82 1454.09,677.89 1456.45,677.97 1458.82,678.05 1461.18,678.13 1463.55,678.21 1465.91,678.30 1468.28,678.38 1470.64,678.47 1473.00,678.58 1475.37,678.72 1477.73,678.87 1480.10,679.05 1482.46,679.24 1484.82,679.44 1487.19,679.66 1489.55,679.89 1491.92,680.12 1494.28,680.36 1496.64,680.60 1499.01,680.83 1501.37,681.07 1503.74,681.30 1506.10,681.54 1508.47,681.79 1510.83,682.04 1513.19,682.30 1515.56,682.56 1517.92,682.83 1520.29,683.11 1522.65,683.39 1525.02,683.68 1527.38,683.97 1529.74,684.27 1532.11,684.58 1534.47,684.88 1536.84,685.21 1539.20,685.56" fill="none" stroke="#141414" stroke-width="1.7" stroke-linejoin="round" stroke-dasharray="15.2 10.2" clip-path="url(#c8)"/><polyline points="1264.96,877.03 1274.41,882.78 1276.78,883.14 1279.14,883.49 1281.51,883.82 1283.87,884.14 1286.23,884.44 1288.60,884.74 1290.96,885.04 1293.33,885.32 1295.69,885.60 1298.06,885.88 1300.42,886.15 1302.78,886.42 1305.15,886.68 1307.51,886.95 1309.88,887.22 1312.24,887.48 1314.60,887.75 1316.97,888.01 1319.33,888.27 1321.70,888.51 1324.06,888.75 1326.42,888.97 1328.79,889.17 1331.15,889.36 1333.52,889.54 1335.88,889.70 1338.25,889.86 1340.61,890.01 1342.97,890.16 1345.34,890.30 1347.70,890.45 1350.07,890.59 1352.43,890.74 1354.80,890.90 1357.16,891.07 1359.52,891.24 1361.89,891.41 1364.25,891.59 1366.62,891.77 1368.98,891.94 1371.34,892.12 1373.71,892.29 1376.07,892.46 1378.44,892.63 1380.80,892.78 1383.16,892.93 1385.53,893.08 1387.89,893.22 1390.26,893.36 1392.62,893.49 1394.99,893.63 1397.35,893.76 1399.71,893.89 1402.08,894.01 1404.44,894.13 1406.81,894.24 1409.17,894.35 1411.54,894.46 1413.90,894.56 1416.26,894.65 1418.63,894.75 1420.99,894.85 1423.36,894.94 1425.72,895.03 1428.08,895.11 1430.45,895.20 1432.81,895.28 1435.18,895.36 1437.54,895.43 1439.90,895.50 1442.27,895.57 1444.63,895.64 1447.00,895.70 1449.36,895.76 1451.73,895.82 1454.09,895.88 1456.45,895.94 1458.82,896.00 1461.18,896.05 1463.55,896.10 1465.91,896.16 1468.28,896.21 1470.64,896.26 1473.00,896.30 1475.37,896.35 1477.73,896.40 1480.10,896.44 1482.46,896.49 1484.82,896.53 1487.19,896.57 1489.55,896.61 1491.92,896.65 1494.28,896.69 1496.64,896.73 1499.01,896.77 1501.37,896.81 1503.74,896.85 1506.10,896.89 1508.47,896.92 1510.83,896.96 1513.19,897.00 1515.56,897.03 1517.92,897.06 1520.29,897.10 1522.65,897.13 1525.02,897.16 1527.38,897.19 1529.74,897.22 1532.11,897.25 1534.47,897.28 1536.84,897.30 1539.20,897.33" fill="none" stroke="#4a4a4a" stroke-width="2.0" stroke-linejoin="round" stroke-dasharray="1.6 4.75" stroke-linecap="butt" clip-path="url(#c8)"/><line x1="1255.50" y1="876.04" x2="1539.20" y2="876.04" stroke="#d4606c" stroke-width="2.2" stroke-dasharray="15.2 10.1"/><rect x="1256.7" y="537.05" width="283.70" height="405.95" fill="none" stroke="#1c1c1c" stroke-width="1.7"/><path d="M1255.50,943.0v-3.2M1255.50,537.05v3.2M1350.07,943.0v-3.2M1350.07,537.05v3.2M1444.63,943.0v-3.2M1444.63,537.05v3.2M1539.20,943.0v-3.2M1539.20,537.05v3.2M1256.7,943.00h3.2M1540.4,943.00h-3.2M1256.7,875.34h3.2M1540.4,875.34h-3.2M1256.7,807.68h3.2M1540.4,807.68h-3.2M1256.7,740.02h3.2M1540.4,740.02h-3.2M1256.7,672.37h3.2M1540.4,672.37h-3.2M1256.7,604.71h3.2M1540.4,604.71h-3.2M1256.7,537.05h3.2M1540.4,537.05h-3.2" stroke="#1c1c1c" stroke-width="1.7" fill="none"/><text transform="translate(1255.00,965.00) scale(1,1.06)" y="7.1" class="tk" text-anchor="middle">0</text><text transform="translate(1350.57,965.00) scale(1,1.06)" y="7.1" class="tk" text-anchor="middle">10</text><text transform="translate(1446.13,965.00) scale(1,1.06)" y="7.1" class="tk" text-anchor="middle">20</text><text transform="translate(1541.70,965.00) scale(1,1.06)" y="7.1" class="tk" text-anchor="middle">30</text><text transform="translate(1247.40,943.50) scale(1,1.06)" y="7.1" class="tk" text-anchor="end">-20</text><text transform="translate(1247.40,875.84) scale(1,1.06)" y="7.1" class="tk" text-anchor="end">0</text><text transform="translate(1247.40,808.18) scale(1,1.06)" y="7.1" class="tk" text-anchor="end">20</text><text transform="translate(1247.40,740.52) scale(1,1.06)" y="7.1" class="tk" text-anchor="end">40</text><text transform="translate(1247.40,672.87) scale(1,1.06)" y="7.1" class="tk" text-anchor="end">60</text><text transform="translate(1247.40,605.21) scale(1,1.06)" y="7.1" class="tk" text-anchor="end">80</text><text transform="translate(1247.40,537.55) scale(1,1.06)" y="7.1" class="tk" text-anchor="end">100</text><text x="1399.35" y="524.55" class="tt" text-anchor="middle">Carbon Emission</text><text transform="translate(1199.70,740.02) rotate(-90)" class="yl" text-anchor="middle">(%)</text></g>
<g><clipPath id="c9"><rect x="1645.5" y="537.05" width="280.50" height="405.95"/></clipPath><polyline points="1653.65,617.43 1663.00,761.78 1665.34,773.96 1667.67,784.97 1670.01,794.58 1672.35,802.54 1674.69,808.99 1677.02,814.47 1679.36,819.35 1681.70,824.02 1684.04,828.47 1686.38,832.65 1688.71,836.52 1691.05,840.05 1693.39,843.37 1695.72,846.58 1698.06,849.57 1700.40,852.23 1702.74,854.47 1705.08,856.27 1707.41,857.87 1709.75,859.32 1712.09,860.65 1714.42,861.86 1716.76,862.99 1719.10,864.04 1721.44,865.05 1723.77,866.02 1726.11,866.97 1728.45,867.90 1730.79,868.78 1733.12,869.64 1735.46,870.46 1737.80,871.25 1740.14,871.99 1742.47,872.70 1744.81,873.37 1747.15,873.99 1749.49,874.56 1751.83,875.10 1754.16,875.62 1756.50,876.12 1758.84,876.61 1761.17,877.08 1763.51,877.54 1765.85,877.96 1768.19,878.37 1770.52,878.74 1772.86,879.09 1775.20,879.40 1777.54,879.68 1779.88,879.92 1782.21,880.13 1784.55,880.32 1786.89,880.50 1789.22,880.68 1791.56,880.84 1793.90,880.99 1796.24,881.13 1798.58,881.26 1800.91,881.39 1803.25,881.50 1805.59,881.60 1807.92,881.69 1810.26,881.77 1812.60,881.84 1814.94,881.92 1817.27,881.99 1819.61,882.06 1821.95,882.12 1824.29,882.19 1826.62,882.24 1828.96,882.30 1831.30,882.34 1833.64,882.38 1835.97,882.41 1838.31,882.42 1840.65,882.43 1842.99,882.42 1845.33,882.38 1847.66,882.32 1850.00,882.23 1852.34,882.12 1854.67,882.00 1857.01,881.86 1859.35,881.71 1861.69,881.54 1864.02,881.37 1866.36,881.20 1868.70,881.02 1871.04,880.84 1873.38,880.66 1875.71,880.45 1878.05,880.22 1880.39,879.96 1882.72,879.69 1885.06,879.40 1887.40,879.09 1889.74,878.78 1892.08,878.45 1894.41,878.11 1896.75,877.77 1899.09,877.42 1901.42,877.07 1903.76,876.72 1906.10,876.34 1908.44,875.95 1910.78,875.55 1913.11,875.13 1915.45,874.69 1917.79,874.25 1920.12,873.79 1922.46,873.33 1924.80,872.85" fill="none" stroke="#141414" stroke-width="1.7" stroke-linejoin="round" clip-path="url(#c9)"/><polyline points="1653.65,617.43 1663.00,707.55 1665.34,717.00 1667.67,725.33 1670.01,732.23 1672.35,737.60 1674.69,742.08 1677.02,745.89 1679.36,749.27 1681.70,752.35 1684.04,755.01 1686.38,757.13 1688.71,758.95 1691.05,760.60 1693.39,762.05 1695.72,763.27 1698.06,764.23 1700.40,764.95 1702.74,765.59 1705.08,766.15 1707.41,766.65 1709.75,767.09 1712.09,767.49 1714.42,767.85 1716.76,768.20 1719.10,768.52 1721.44,768.83 1723.77,769.11 1726.11,769.38 1728.45,769.62 1730.79,769.85 1733.12,770.05 1735.46,770.23 1737.80,770.40 1740.14,770.56 1742.47,770.72 1744.81,770.86 1747.15,771.00 1749.49,771.13 1751.83,771.26 1754.16,771.37 1756.50,771.48 1758.84,771.59 1761.17,771.68 1763.51,771.78 1765.85,771.86 1768.19,771.95 1770.52,772.03 1772.86,772.12 1775.20,772.21 1777.54,772.29 1779.88,772.37 1782.21,772.44 1784.55,772.50 1786.89,772.56 1789.22,772.61 1791.56,772.64 1793.90,772.66 1796.24,772.66 1798.58,772.66 1800.91,772.66 1803.25,772.66 1805.59,772.66 1807.92,772.66 1810.26,772.66 1812.60,772.66 1814.94,772.66 1817.27,772.66 1819.61,772.66 1821.95,772.66 1824.29,772.66 1826.62,772.66 1828.96,772.65 1831.30,772.62 1833.64,772.58 1835.97,772.52 1838.31,772.46 1840.65,772.39 1842.99,772.31 1845.33,772.23 1847.66,772.15 1850.00,772.06 1852.34,771.97 1854.67,771.89 1857.01,771.80 1859.35,771.70 1861.69,771.60 1864.02,771.49 1866.36,771.37 1868.70,771.25 1871.04,771.12 1873.38,770.98 1875.71,770.85 1878.05,770.71 1880.39,770.58 1882.72,770.44 1885.06,770.31 1887.40,770.18 1889.74,770.04 1892.08,769.91 1894.41,769.78 1896.75,769.65 1899.09,769.51 1901.42,769.37 1903.76,769.24 1906.10,769.10 1908.44,768.96 1910.78,768.82 1913.11,768.68 1915.45,768.53 1917.79,768.39 1920.12,768.25 1922.46,768.10 1924.80,767.95" fill="none" stroke="#141414" stroke-width="1.7" stroke-linejoin="round" stroke-dasharray="15.2 10.2" clip-path="url(#c9)"/><polyline points="1653.65,615.80 1663.00,611.42 1665.34,611.04 1667.67,610.70 1670.01,610.41 1672.35,610.18 1674.69,610.04 1677.02,609.95 1679.36,609.87 1681.70,609.80 1684.04,609.72 1686.38,609.61 1688.71,609.45 1691.05,609.26 1693.39,609.04 1695.72,608.80 1698.06,608.55 1700.40,608.30 1702.74,608.07 1705.08,607.86 1707.41,607.67 1709.75,607.48 1712.09,607.29 1714.42,607.10 1716.76,606.91 1719.10,606.73 1721.44,606.54 1723.77,606.36 1726.11,606.18 1728.45,606.00 1730.79,605.82 1733.12,605.64 1735.46,605.47 1737.80,605.30 1740.14,605.14 1742.47,604.98 1744.81,604.82 1747.15,604.66 1749.49,604.51 1751.83,604.37 1754.16,604.23 1756.50,604.10 1758.84,603.97 1761.17,603.84 1763.51,603.72 1765.85,603.61 1768.19,603.50 1770.52,603.40 1772.86,603.29 1775.20,603.19 1777.54,603.09 1779.88,602.99 1782.21,602.90 1784.55,602.80 1786.89,602.71 1789.22,602.62 1791.56,602.53 1793.90,602.45 1796.24,602.36 1798.58,602.28 1800.91,602.20 1803.25,602.13 1805.59,602.05 1807.92,601.98 1810.26,601.91 1812.60,601.84 1814.94,601.78 1817.27,601.72 1819.61,601.66 1821.95,601.60 1824.29,601.55 1826.62,601.49 1828.96,601.44 1831.30,601.39 1833.64,601.34 1835.97,601.29 1838.31,601.25 1840.65,601.20 1842.99,601.15 1845.33,601.10 1847.66,601.06 1850.00,601.02 1852.34,600.97 1854.67,600.93 1857.01,600.89 1859.35,600.86 1861.69,600.82 1864.02,600.78 1866.36,600.75 1868.70,600.72 1871.04,600.69 1873.38,600.66 1875.71,600.63 1878.05,600.61 1880.39,600.59 1882.72,600.57 1885.06,600.55 1887.40,600.53 1889.74,600.52 1892.08,600.50 1894.41,600.49 1896.75,600.48 1899.09,600.46 1901.42,600.45 1903.76,600.44 1906.10,600.43 1908.44,600.42 1910.78,600.41 1913.11,600.40 1915.45,600.39 1917.79,600.39 1920.12,600.38 1922.46,600.38 1924.80,600.38" fill="none" stroke="#4a4a4a" stroke-width="2.0" stroke-linejoin="round" stroke-dasharray="1.6 4.75" stroke-linecap="butt" clip-path="url(#c9)"/><line x1="1644.30" y1="617.74" x2="1924.80" y2="617.74" stroke="#d4606c" stroke-width="2.2" stroke-dasharray="15.2 10.1"/><rect x="1645.5" y="537.05" width="280.50" height="405.95" fill="none" stroke="#1c1c1c" stroke-width="1.7"/><path d="M1644.30,943.0v-3.2M1644.30,537.05v3.2M1737.80,943.0v-3.2M1737.80,537.05v3.2M1831.30,943.0v-3.2M1831.30,537.05v3.2M1924.80,943.0v-3.2M1924.80,537.05v3.2M1645.5,943.00h3.2M1926.0,943.00h-3.2M1645.5,861.81h3.2M1926.0,861.81h-3.2M1645.5,780.62h3.2M1926.0,780.62h-3.2M1645.5,699.43h3.2M1926.0,699.43h-3.2M1645.5,618.24h3.2M1926.0,618.24h-3.2M1645.5,537.05h3.2M1926.0,537.05h-3.2" stroke="#1c1c1c" stroke-width="1.7" fill="none"/><text transform="translate(1643.80,965.00) scale(1,1.06)" y="7.1" class="tk" text-anchor="middle">0</text><text transform="translate(1738.30,965.00) scale(1,1.06)" y="7.1" class="tk" text-anchor="middle">10</text><text transform="translate(1832.80,965.00) scale(1,1.06)" y="7.1" class="tk" text-anchor="middle">20</text><text transform="translate(1927.30,965.00) scale(1,1.06)" y="7.1" class="tk" text-anchor="middle">30</text><text transform="translate(1636.20,943.50) scale(1,1.06)" y="7.1" class="tk" text-anchor="end">-20</text><text transform="translate(1636.20,862.31) scale(1,1.06)" y="7.1" class="tk" text-anchor="end">-15</text><text transform="translate(1636.20,781.12) scale(1,1.06)" y="7.1" class="tk" text-anchor="end">-10</text><text transform="translate(1636.20,699.93) scale(1,1.06)" y="7.1" class="tk" text-anchor="end">-5</text><text transform="translate(1636.20,618.74) scale(1,1.06)" y="7.1" class="tk" text-anchor="end">0</text><text transform="translate(1636.20,537.55) scale(1,1.06)" y="7.1" class="tk" text-anchor="end">5</text><text x="1786.55" y="524.55" class="tt" text-anchor="middle">Environmental Quality</text><text transform="translate(1596.30,740.02) rotate(-90)" class="yl" text-anchor="middle">(%)</text></g>
<rect x="630.3" y="988.8" width="754.8" height="35.0" fill="#fff" stroke="#1c1c1c" stroke-width="1.7"/>
<line x1="636.5" y1="1006.3" x2="699.7" y2="1006.3" stroke="#141414" stroke-width="1.7"/>
<text x="703.2" y="1017.4" class="lg">Monetary Policy</text>
<line x1="883.7" y1="1006.3" x2="947.6" y2="1006.3" stroke="#141414" stroke-width="1.7" stroke-dasharray="15.8 9.4"/>
<text x="951.6" y="1017.4" class="lg">Fiscal Policy</text>
<line x1="1094" y1="1006.3" x2="1154" y2="1006.3" stroke="#4a4a4a" stroke-width="2" stroke-dasharray="1.6 4.75"/>
<text x="1161.8" y="1017.4" class="lg">Environmental Policy</text>
</svg>
</body></html>
